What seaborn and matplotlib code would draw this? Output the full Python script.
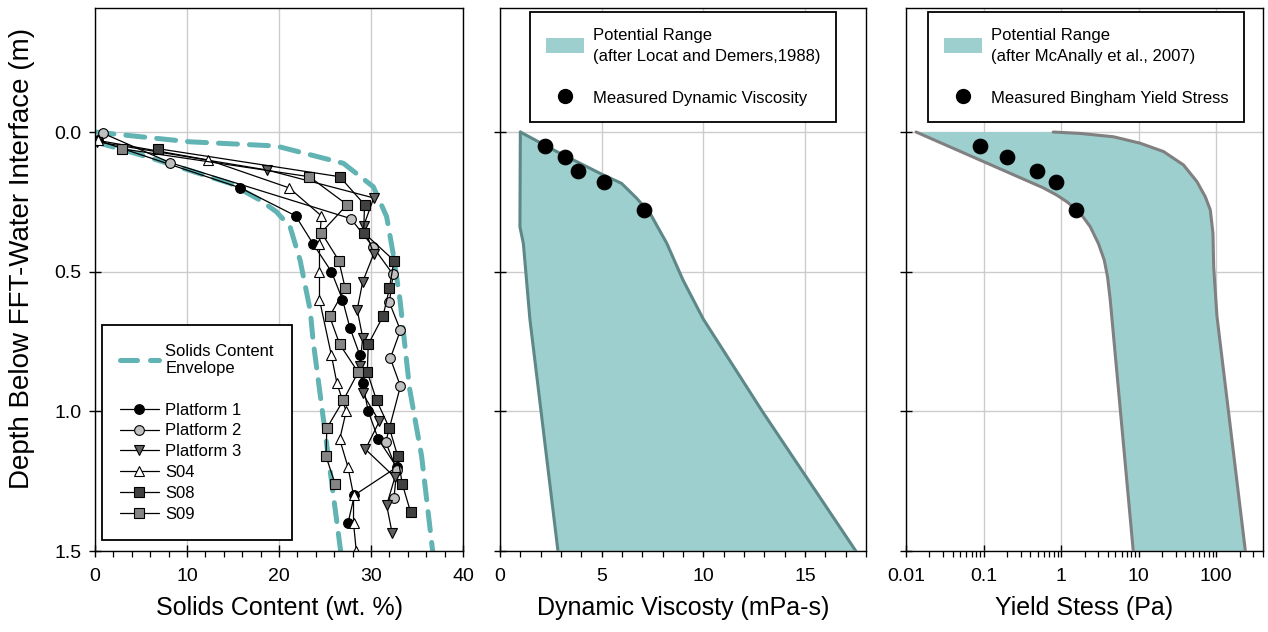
import numpy as np
import seaborn as sns
import matplotlib.pyplot as plt
from matplotlib.lines import Line2D
from matplotlib.patches import Patch
from matplotlib.ticker import MultipleLocator, FixedLocator, LogLocator, NullFormatter

#=================
#Data
#=================
# solids content profiles (wt. %) vs depth (m)
p1_depth = [0.03, 0.2, 0.3, 0.4, 0.5, 0.6, 0.7, 0.8, 0.9, 1.0, 1.1, 1.2, 1.3, 1.4]
p1_solids = [0.3, 15.8, 21.8, 23.7, 25.7, 26.9, 27.7, 28.8, 29.1, 29.7, 30.8, 32.8, 28.2, 27.5]

p2_depth = [0.005, 0.11, 0.31, 0.41, 0.51, 0.61, 0.71, 0.81, 0.91, 1.11, 1.21, 1.31]
p2_solids = [0.9, 8.2, 27.8, 30.2, 32.4, 32.0, 33.2, 32.1, 33.2, 31.6, 32.8, 32.5]

p3_depth = [0.035, 0.136, 0.236, 0.336, 0.436, 0.536, 0.636, 0.736, 0.836, 0.936,
            1.036, 1.136, 1.236, 1.336, 1.436]
p3_solids = [0.2, 18.7, 30.3, 29.2, 30.3, 29.1, 28.5, 29.1, 28.8, 29.1,
             30.9, 29.4, 32.6, 31.7, 32.3]

s04_depth = [0.03, 0.1, 0.2, 0.3, 0.4, 0.5, 0.6, 0.8, 0.9, 1.0, 1.1, 1.2, 1.3, 1.4, 1.5]
s04_solids = [0.3, 12.3, 21.1, 24.6, 24.4, 24.4, 24.4, 25.7, 26.3, 27.3, 26.6, 27.5, 28.1, 28.1, 28.4]

s08_depth = [0.06, 0.16, 0.26, 0.36, 0.46, 0.56, 0.66, 0.76, 0.86, 0.96, 1.06, 1.16, 1.26, 1.36]
s08_solids = [6.9, 26.6, 29.3, 29.2, 32.5, 32.0, 31.3, 29.7, 29.6, 30.6, 32.0, 32.9, 33.4, 34.3]

s09_depth = [0.06, 0.16, 0.26, 0.36, 0.46, 0.56, 0.66, 0.76, 0.86, 0.96, 1.06, 1.16, 1.26]
s09_solids = [2.9, 23.3, 27.4, 24.6, 26.5, 27.2, 25.5, 26.6, 28.6, 27.0, 25.2, 25.1, 26.1]

# solids content envelope
env_lo_depth = [0.035, 0.088, 0.184, 0.243, 0.285, 0.339, 0.46, 0.64, 0.745, 1.5]
env_lo_solids = [0.0, 5.6, 14.7, 17.9, 19.7, 21.2, 22.3, 23.4, 23.7, 26.7]
env_hi_depth = [0.0, 0.035, 0.05, 0.112, 0.196, 0.303, 0.434, 0.60, 0.77, 0.92, 1.16, 1.5]
env_hi_solids = [0.0, 10.3, 19.7, 27.0, 30.25, 31.7, 32.4, 33.15, 33.7, 34.2, 35.5, 36.7]

# dynamic viscosity range (mPa-s)
visc_lo_depth = [0.0, 0.339, 0.40, 0.67, 1.5]
visc_lo = [1.0, 0.98, 1.15, 1.47, 2.85]
visc_hi_depth = [0.0, 0.07, 0.148, 0.184, 0.237, 0.291, 0.398, 0.53, 0.67, 1.0, 1.25, 1.5]
visc_hi = [1.0, 2.79, 4.92, 5.98, 6.72, 7.38, 8.2, 9.0, 10.0, 12.9, 15.2, 17.5]
visc_meas_depth = [0.05, 0.09, 0.14, 0.18, 0.28]
visc_meas = [2.2, 3.2, 3.85, 5.1, 7.1]

# yield stress range (Pa)
ys_lo_depth = [0.0, 0.20, 0.226, 0.25, 0.29, 0.339, 0.40, 0.458, 0.518, 0.60, 1.5]
ys_lo = [0.0135, 0.59, 0.88, 1.19, 1.76, 2.37, 3.03, 3.59, 3.96, 4.29, 8.5]
ys_hi_depth = [0.0, 0.005, 0.017, 0.04, 0.07, 0.118, 0.178, 0.232, 0.279, 0.363, 0.482, 0.66, 1.5]
ys_hi = [0.79, 1.76, 4.73, 10.4, 20.9, 37.8, 56.4, 72.2, 83.7, 90.6, 92.5, 102, 237]
ys_meas_depth = [0.05, 0.09, 0.14, 0.18, 0.28]
ys_meas = [0.09, 0.20, 0.49, 0.86, 1.56]

series = [
    ("Platform 1", p1_solids, p1_depth, "o", "black"),
    ("Platform 2", p2_solids, p2_depth, "o", "#c0c0c0"),
    ("Platform 3", p3_solids, p3_depth, "v", "#606060"),
    ("S04", s04_solids, s04_depth, "^", "white"),
    ("S08", s08_solids, s08_depth, "s", "#404040"),
    ("S09", s09_solids, s09_depth, "s", "#858585"),
]

teal = "#62b3b3"
fill_c = "#9ecfcf"
env_style = (0, (3.8, 2.4))

#=================
#Style
#=================
sns.set_theme(style="whitegrid", rc={
    "grid.color": "#cccccc", "grid.linewidth": 1.0,
    "axes.edgecolor": "black", "axes.linewidth": 1.0,
    "text.color": "black", "axes.labelcolor": "black",
    "xtick.color": "black", "ytick.color": "black",
})
plt.rcParams["font.family"] = ["Liberation Sans", "DejaVu Sans"]

fig = plt.figure(figsize=(12.68, 6.32), dpi=100)
ax1 = fig.add_axes([95 / 1268, 1 - 551 / 632, 368 / 1268, 543 / 632])
ax2 = fig.add_axes([500 / 1268, 1 - 551 / 632, 366 / 1268, 543 / 632])
ax3 = fig.add_axes([906 / 1268, 1 - 551 / 632, 357 / 1268, 543 / 632])

#=================
#Solids content
#=================
sns.lineplot(x=env_hi_solids, y=env_hi_depth, sort=False, estimator=None, ax=ax1,
             color=teal, linewidth=3.6, linestyle=env_style, dash_capstyle="round")
sns.lineplot(x=env_lo_solids, y=env_lo_depth, sort=False, estimator=None, ax=ax1,
             color=teal, linewidth=3.6, linestyle=env_style, dash_capstyle="round")

for name, xs, ys, mk, fc in series:
    sns.lineplot(x=xs, y=ys, sort=False, estimator=None, ax=ax1, color="black",
                 linewidth=0.9, marker=mk, markersize=7, markerfacecolor=fc,
                 markeredgecolor="black", markeredgewidth=0.8)

ax1.set_xlim(0, 40)
ax1.xaxis.set_major_locator(MultipleLocator(10))
ax1.xaxis.set_minor_locator(MultipleLocator(2))
ax1.set_xlabel("Solids Content (wt. %)", fontsize=18, labelpad=8)
ax1.set_ylabel("Depth Below FFT-Water Interface (m)", fontsize=20)
ax1.yaxis.set_label_coords(-0.163, 0.538)

h1 = [Line2D([], [], color=teal, linewidth=3.6, linestyle=(0, (3.4, 2.6)), dash_capstyle="round"),
      Line2D([], [], linestyle="none")]
l1 = ["Solids Content\nEnvelope", " "]
for name, xs, ys, mk, fc in series:
    h1.append(Line2D([], [], color="black", linewidth=0.9, marker=mk, markersize=7,
                     markerfacecolor=fc, markeredgecolor="black", markeredgewidth=0.8))
    l1.append(name)
leg1 = ax1.legend(h1, l1, loc="lower left", bbox_to_anchor=(0.019, 0.02), fontsize=12,
                  frameon=True, fancybox=False, framealpha=1, edgecolor="black",
                  handlelength=2.3, labelspacing=0.35, borderpad=1.1, handletextpad=0.4,
                  borderaxespad=0)
leg1.get_frame().set_linewidth(1.3)

#=================
#Dynamic viscosity
#=================
ax2.fill(np.concatenate([visc_lo, visc_hi[::-1]]),
         np.concatenate([visc_lo_depth, visc_hi_depth[::-1]]),
         color=fill_c, linewidth=0, zorder=2)
sns.lineplot(x=visc_lo, y=visc_lo_depth, sort=False, estimator=None, ax=ax2,
             color="#5e8787", linewidth=2.2, zorder=3)
sns.lineplot(x=visc_hi, y=visc_hi_depth, sort=False, estimator=None, ax=ax2,
             color="#5e8787", linewidth=2.2, zorder=3)
sns.scatterplot(x=visc_meas, y=visc_meas_depth, ax=ax2, color="black", s=110,
                edgecolor="black", zorder=4)
ax2.set_xlim(0, 18)
ax2.xaxis.set_major_locator(MultipleLocator(5))
ax2.xaxis.set_minor_locator(MultipleLocator(1))
ax2.set_xlabel("Dynamic Viscosty (mPa-s)", fontsize=18, labelpad=8)
ax2.set_ylabel("")

h2 = [Patch(facecolor=fill_c, edgecolor="none"), Line2D([], [], linestyle="none"),
      Line2D([], [], linestyle="none", marker="o", markersize=10, color="black")]
l2 = ["Potential Range\n(after Locat and Demers,1988)", " ", "Measured Dynamic Viscosity"]
leg2 = ax2.legend(h2, l2, loc="upper left", bbox_to_anchor=(0.082, 0.993), fontsize=12,
                  frameon=True, fancybox=False, framealpha=1, edgecolor="black",
                  handlelength=2.3, handleheight=1.0, labelspacing=0.3, borderpad=0.95,
                  handletextpad=0.5, borderaxespad=0)
leg2.get_frame().set_linewidth(1.3)

#=================
#Yield stress
#=================
ax3.set_xscale("log")
ax3.fill(np.concatenate([ys_lo, ys_hi[::-1]]),
         np.concatenate([ys_lo_depth, ys_hi_depth[::-1]]),
         color=fill_c, linewidth=0, zorder=2)
sns.lineplot(x=ys_lo, y=ys_lo_depth, sort=False, estimator=None, ax=ax3,
             color="#808080", linewidth=2.2, zorder=3)
sns.lineplot(x=ys_hi, y=ys_hi_depth, sort=False, estimator=None, ax=ax3,
             color="#808080", linewidth=2.2, zorder=3)
sns.scatterplot(x=ys_meas, y=ys_meas_depth, ax=ax3, color="black", s=110,
                edgecolor="black", zorder=4)
ax3.set_xlim(0.01, 400)
ax3.xaxis.set_major_locator(FixedLocator([0.01, 0.1, 1, 10, 100]))
ax3.set_xticklabels(["0.01", "0.1", "1", "10", "100"])
ax3.xaxis.set_minor_locator(LogLocator(base=10, subs=np.arange(2, 10)))
ax3.xaxis.set_minor_formatter(NullFormatter())
ax3.set_xlabel("Yield Stess (Pa)", fontsize=18, labelpad=8)
ax3.set_ylabel("")

h3 = [Patch(facecolor=fill_c, edgecolor="none"), Line2D([], [], linestyle="none"),
      Line2D([], [], linestyle="none", marker="o", markersize=10, color="black")]
l3 = ["Potential Range\n(after McAnally et al., 2007)", " ", "Measured Bingham Yield Stress"]
leg3 = ax3.legend(h3, l3, loc="upper left", bbox_to_anchor=(0.062, 0.993), fontsize=12,
                  frameon=True, fancybox=False, framealpha=1, edgecolor="black",
                  handlelength=2.3, handleheight=1.0, labelspacing=0.3, borderpad=0.95,
                  handletextpad=0.5, borderaxespad=0)
leg3.get_frame().set_linewidth(1.3)

for leg in (leg2, leg3):
    for t in leg.get_texts():
        t.set_linespacing(1.5)

#=================
#Common axes settings
#=================
for ax in (ax1, ax2, ax3):
    ax.set_ylim(1.5, -0.444)
    ax.yaxis.set_major_locator(FixedLocator([0.0, 0.5, 1.0, 1.5]))
    ax.set_yticklabels(["0.0", "0.5", "1.0", "1.5"])
    ax.grid(True, which="major", color="#cccccc", linewidth=1.0)
    ax.grid(False, which="minor")
    ax.set_axisbelow(True)
    ax.tick_params(axis="both", which="major", direction="inout", length=9, width=1.0,
                   color="black", labelcolor="black", labelsize=14, bottom=True, left=True)
    ax.tick_params(axis="x", which="minor", direction="out", length=4, width=0.9,
                   color="black", bottom=True)
    ax.tick_params(axis="x", which="major", pad=8)
    ax.tick_params(axis="y", which="major", pad=5)
    for s in ax.spines.values():
        s.set_color("black")
        s.set_linewidth(1.0)

ax2.tick_params(axis="y", labelleft=False)
ax3.tick_params(axis="y", labelleft=False)

plt.savefig("out.png", dpi=100)
